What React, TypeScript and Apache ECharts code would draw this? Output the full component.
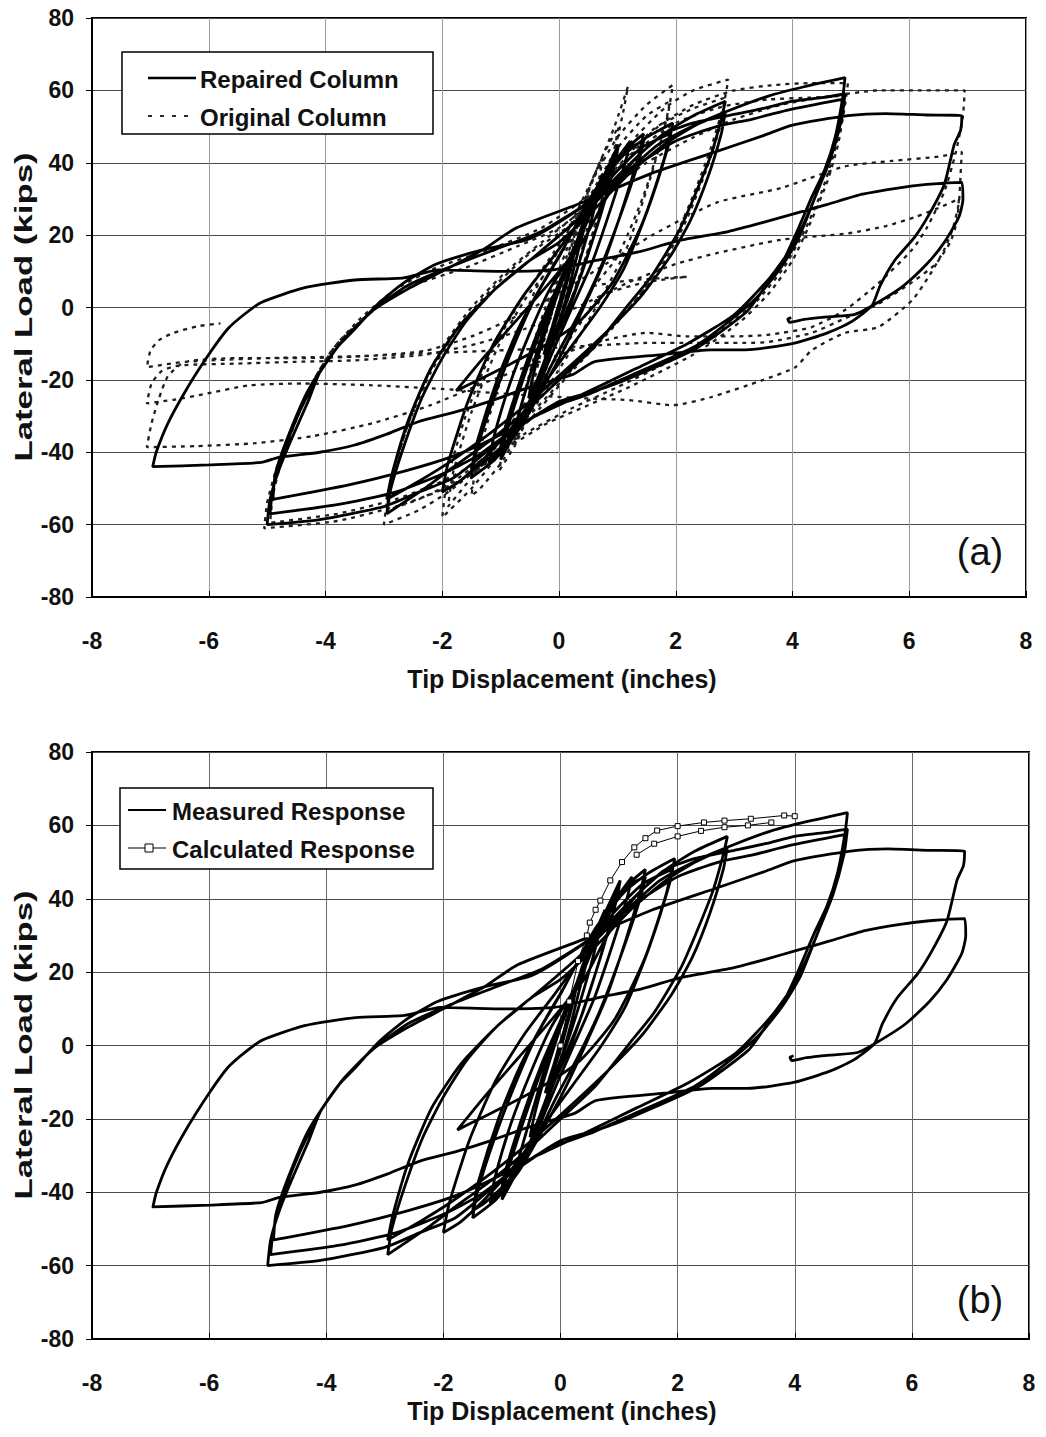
import React, { useEffect, useRef } from "react";
import * as echarts from "echarts";

// ---------- axes ----------
const X_MIN = -8;
const X_MAX = 8;
const X_STEP = 2;
const Y_MIN = -80;
const Y_MAX = 80;
const Y_STEP = 20;

// ---------- Repaired column / measured response (inches, kips), in loading order ----------
const rep01 = [[0,0],[0.08,5],[0.17,10],[0.26,15],[0.22,12],[0.12,6],[0.02,0],[-0.08,-5],[-0.17,-10],[-0.26,-13],[-0.21,-10],[-0.11,-5],[-0.02,0]];
const rep02 = [[0.1,6],[0.22,13],[0.36,21],[0.5,27],[0.45,23],[0.32,15],[0.18,6],[0.04,-2],[-0.12,-9],[-0.28,-16],[-0.4,-21],[-0.52,-25],[-0.46,-20],[-0.33,-12],[-0.18,-4],[-0.04,3]];
const rep03 = [[0.12,10],[0.32,19],[0.52,28],[0.76,37],[0.7,33],[0.52,22],[0.32,11],[0.12,1],[-0.1,-8],[-0.32,-18],[-0.55,-28],[-0.77,-35],[-0.7,-30],[-0.5,-19],[-0.3,-8],[-0.1,2]];
const rep04 = [[0.15,11],[0.4,22],[0.7,34],[1.02,45],[0.96,40],[0.74,27],[0.46,13],[0.2,1],[-0.08,-9],[-0.38,-21],[-0.7,-33],[-1.0,-42],[-0.93,-36],[-0.68,-23],[-0.4,-10],[-0.12,2]];
const rep05 = [[0.2,14],[0.5,26],[0.8,37],[1.0,43],[0.93,38],[0.68,24],[0.38,9],[0.1,-2],[-0.2,-13],[-0.5,-26],[-0.8,-36],[-1.02,-40],[-0.92,-33],[-0.62,-18],[-0.32,-5],[-0.02,6]];
const rep05b = [[0.3,18],[0.65,31],[0.95,40],[1.22,46],[1.15,41],[0.9,28],[0.58,13],[0.28,2],[-0.05,-10],[-0.42,-24],[-0.8,-35],[-1.2,-43],[-1.12,-36],[-0.84,-21],[-0.5,-7],[-0.16,5]];
const rep06 = [[0.3,17],[0.7,32],[1.1,43],[1.45,48],[1.38,43],[1.12,29],[0.78,13],[0.45,1],[0.1,-11],[-0.3,-23],[-0.7,-34],[-1.1,-42],[-1.5,-47],[-1.42,-40],[-1.12,-25],[-0.76,-10],[-0.4,3]];
const rep07 = [[0.0,14],[0.4,26],[0.8,37],[1.2,44],[1.45,46],[1.36,40],[1.02,24],[0.66,9],[0.3,-3],[-0.1,-15],[-0.5,-28],[-0.9,-37],[-1.3,-43],[-1.5,-45],[-1.4,-37],[-1.06,-20],[-0.7,-6],[-0.3,6]];
const rep08 = [[0.1,17],[0.6,32],[1.1,42],[1.5,47],[1.95,51],[1.86,44],[1.52,27],[1.12,11],[0.7,0],[0.2,-11],[-0.3,-22],[-0.8,-33],[-1.3,-42],[-1.7,-48],[-2.0,-51],[-1.9,-43],[-1.56,-26],[-1.12,-10],[-0.62,3],[-0.1,14]];
const rep09 = [[0.4,25],[0.9,36],[1.4,44],[1.9,48],[1.8,41],[1.42,23],[0.92,7],[0.34,-4],[-0.3,-11],[-1.0,-17],[-1.76,-23],[-1.3,-14],[-0.7,-3],[-0.1,8],[0.4,18]];
const rep10 = [[0.8,30],[1.3,41],[1.8,48],[2.3,53],[2.85,57],[2.78,52],[2.6,42],[2.3,30],[2.05,21],[1.6,9],[1.2,1],[0.6,-11],[0.0,-20],[-0.6,-29],[-1.2,-37],[-1.8,-44],[-2.3,-50],[-2.95,-57],[-2.88,-50],[-2.65,-38],[-2.35,-25],[-2.0,-14],[-1.6,-4],[-1.1,5],[-0.5,13],[0.0,18]];
const rep11 = [[0.6,27],[1.2,37],[1.8,45],[2.3,50],[2.85,54],[2.78,48],[2.55,36],[2.25,24],[1.9,14],[1.4,3],[0.8,-7],[0.2,-16],[-0.5,-26],[-1.2,-35],[-1.9,-43],[-2.4,-48],[-2.95,-53],[-2.86,-46],[-2.6,-32],[-2.2,-17],[-1.7,-5],[-1.1,5],[-0.5,13]];
const rep12 = [[0.3,24],[1.0,35],[1.7,45],[2.4,51],[3.0,55],[3.6,58.5],[4.2,61],[4.9,63.5],[4.86,58],[4.73,47],[4.55,38],[4.33,30.5],[4.05,20],[3.82,12.3],[3.5,5],[3.2,-1.4],[2.34,-11.4],[1.2,-19.6],[0.63,-23],[0.0,-26],[-0.68,-33],[-1.25,-40],[-1.8,-47],[-2.4,-51],[-3.0,-55],[-4.1,-58.6],[-5.0,-60],[-4.95,-53],[-4.8,-45],[-4.6,-37],[-4.3,-26],[-4.1,-18],[-3.8,-11],[-3.5,-6],[-3.1,1],[-2.66,6.8],[-2.1,12],[-1.3,16],[-0.5,19],[0.3,26.7],[0.8,33],[1.2,39.5],[1.77,47.7],[2.3,51],[2.9,53],[3.5,55],[4.0,57],[4.5,58],[4.9,59]];
const rep13 = [[4.84,52],[4.65,41],[4.4,31],[4.1,19],[3.8,11],[3.4,3],[2.9,-4],[2.3,-11],[1.2,-19],[0.5,-24],[-0.2,-28],[-0.8,-34],[-1.4,-41],[-2.0,-46],[-2.8,-51],[-3.8,-54.5],[-4.95,-57],[-4.9,-50],[-4.72,-40],[-4.45,-29],[-4.1,-18],[-3.7,-9],[-3.2,-1],[-2.6,6],[-1.9,11],[-1.1,16],[-0.3,21],[0.5,29],[1.3,39],[2.0,46],[2.7,50],[3.3,52],[3.9,54.5],[4.85,57.5]];
const rep14 = [[4.8,51],[4.6,40],[4.35,29],[4.0,17],[3.6,8],[3.0,-2],[2.2,-10],[1.3,-17],[0.4,-24],[-0.4,-30],[-1.1,-36],[-1.8,-41],[-2.6,-45],[-3.6,-49],[-4.9,-53],[-4.86,-46],[-4.65,-36],[-4.3,-23],[-3.8,-11],[-3.2,-1],[-2.6,5],[-2.0,10]];
const rep15 = [[-1.3,16],[-0.73,22],[0.4,29],[1.54,36.8],[2.68,43],[3.5,47.5],[4.0,50.4],[4.95,53],[5.6,53.6],[6.3,53.2],[6.9,53],[6.88,49],[6.77,45],[6.6,34],[6.35,26],[6.1,19.6],[5.75,13],[5.5,6],[5.36,0.5],[5.0,-4],[4.6,-7],[4.0,-10],[3.2,-11.7],[2.6,-11.7],[1.77,-13],[0.6,-15],[0.24,-18.5],[-0.5,-22],[-1.2,-26],[-1.8,-29],[-2.4,-31.5],[-2.95,-35],[-3.5,-38],[-4.1,-40],[-4.8,-41.4],[-5.1,-42.8],[-6.0,-43.5],[-6.96,-44]];
const rep16 = [[-6.9,-40],[-6.7,-32],[-6.37,-22.3],[-6.0,-13],[-5.68,-6],[-5.4,-2],[-5.1,1.4],[-4.37,5.4],[-3.5,7.6],[-2.66,8.2],[-2.05,10.4],[-1.0,10],[-0.1,10.4],[0.63,13],[1.4,15.5],[2.05,18.5],[2.9,21],[3.5,23.5],[4.05,26],[4.6,28.5],[5.2,31.3],[5.8,33],[6.3,34],[6.9,34.6]];
const rep17 = [[6.92,30],[6.85,25],[6.6,18],[6.3,12],[5.9,6],[5.46,1.4],[5.07,-1.9],[4.6,-2.6],[4.2,-3.3],[3.95,-4.1],[3.92,-3.2],[3.98,-2.8]];

// ---------- Original column (dashed) ----------
const org01 = [[0,0],[0.08,6],[0.17,12],[0.25,17],[0.21,14],[0.11,7],[0.01,0],[-0.09,-6],[-0.18,-11],[-0.25,-14],[-0.2,-11],[-0.1,-5],[0,1]];
const org02 = [[0.12,9],[0.25,17],[0.38,25],[0.5,31],[0.44,26],[0.3,16],[0.16,6],[0.02,-3],[-0.14,-11],[-0.3,-19],[-0.42,-25],[-0.52,-28],[-0.45,-22],[-0.3,-12],[-0.15,-3],[0,5]];
const org03 = [[0.16,14],[0.36,25],[0.56,35],[0.76,42],[0.69,36],[0.5,23],[0.3,10],[0.1,0],[-0.14,-11],[-0.38,-23],[-0.6,-32],[-0.78,-38],[-0.7,-31],[-0.5,-18],[-0.28,-5],[-0.06,6]];
const org04 = [[0.2,17],[0.45,30],[0.72,41],[1.02,50],[0.95,44],[0.72,29],[0.44,13],[0.16,0],[-0.14,-13],[-0.45,-27],[-0.75,-38],[-1.02,-45],[-0.94,-37],[-0.68,-22],[-0.38,-7],[-0.08,7]];
const org05 = [[0.25,21],[0.6,36],[0.95,50],[1.18,61],[1.1,54],[0.85,36],[0.5,16],[0.2,1],[-0.15,-14],[-0.55,-30],[-0.95,-42],[-1.35,-50],[-1.5,-52],[-1.4,-42],[-1.1,-25],[-0.75,-9],[-0.4,5]];
const org06 = [[0.0,16],[0.5,33],[1.0,47],[1.5,56],[1.95,61.5],[1.86,53],[1.55,35],[1.15,16],[0.7,2],[0.2,-12],[-0.4,-27],[-1.0,-40],[-1.5,-50],[-2.0,-58],[-1.92,-48],[-1.6,-30],[-1.15,-12],[-0.65,2],[-0.1,15]];
const org07 = [[0.5,30],[1.0,44],[1.5,53],[1.9,57],[1.8,49],[1.45,31],[1.0,14],[0.6,6],[1.2,7.5],[2.2,8.5],[1.5,7],[0.7,3],[0.3,-6],[-0.3,-20],[-1.0,-36],[-1.5,-47],[-1.9,-55],[-1.82,-46],[-1.5,-29],[-1.05,-11],[-0.55,3],[0.0,14]];
const org08 = [[0.6,30],[1.2,45],[1.8,55],[2.3,60],[2.9,63],[2.82,56],[2.6,44],[2.3,31],[1.95,18],[1.5,6],[0.9,-6],[0.2,-18],[-0.5,-31],[-1.2,-42],[-1.9,-51],[-2.4,-56],[-3.0,-60],[-2.92,-51],[-2.7,-38],[-2.4,-24],[-2.0,-11],[-1.5,0],[-0.9,10],[-0.3,18]];
const org09 = [[0.4,27],[1.1,40],[1.7,50],[2.3,55],[2.85,58],[2.76,50],[2.5,37],[2.15,23],[1.7,10],[1.1,-2],[0.4,-14],[-0.4,-28],[-1.1,-39],[-1.8,-48],[-2.4,-53],[-2.95,-56],[-2.86,-47],[-2.6,-33],[-2.2,-18],[-1.7,-5],[-1.1,6],[-0.5,15]];
const org10 = [[0.2,23],[0.9,37],[1.6,49],[2.3,56],[3.0,60],[3.7,61.5],[4.3,62],[4.95,62],[4.9,56],[4.78,45],[4.6,35],[4.35,25],[4.0,13],[3.6,4],[3.1,-4],[2.3,-13],[1.2,-22],[0.5,-27],[-0.2,-32],[-0.9,-39],[-1.5,-46],[-2.1,-51],[-2.8,-55],[-3.8,-59],[-5.05,-61],[-5.0,-54],[-4.85,-45],[-4.6,-34],[-4.3,-23],[-3.9,-12],[-3.4,-3],[-2.8,5],[-2.1,11],[-1.2,16],[-0.3,22]];
const org11 = [[0.6,32],[1.3,43],[2.0,51],[2.8,55.5],[3.6,57.5],[4.3,58],[4.9,58.5],[4.85,52],[4.7,42],[4.5,32],[4.2,21],[3.85,11],[3.4,2],[2.8,-6],[2.0,-14],[1.0,-22],[0.2,-28],[-0.6,-35],[-1.3,-42],[-2.0,-48],[-2.8,-53],[-3.8,-57],[-4.95,-59.5],[-4.9,-52],[-4.75,-42],[-4.5,-31],[-4.2,-20],[-3.8,-10],[-3.2,-1],[-2.5,6],[-1.6,11],[-0.7,17]];
const org12 = [[0,22],[0.8,32],[1.5,40],[2.3,47],[3.0,52],[3.8,56],[4.5,58],[5.5,60],[6.2,60],[6.95,60],[6.92,53],[6.8,43],[6.6,32],[6.3,22],[6.05,16],[5.47,6.7],[4.9,-0.7],[4.33,-5.4],[3.6,-7.5],[3.0,-8],[2.2,-8],[1.5,-7],[0.8,-9],[0.2,-12],[-0.5,-16],[-1.3,-21],[-2.2,-27],[-3.2,-32],[-4.2,-35.5],[-5.2,-37.5],[-6.2,-38.3],[-7.06,-38.6]];
const org13 = [[-6.98,-32],[-6.85,-25],[-6.7,-19],[-6.4,-15],[-5.5,-14],[-4.5,-14],[-3.4,-13.5],[-2.3,-12],[-1.5,-8],[-0.8,-3],[0,4],[0.8,12],[1.6,20],[2.7,29],[3.8,33],[4.9,39],[5.7,40.5],[6.5,41.7],[6.9,43],[6.88,37],[6.85,29],[6.75,22],[6.6,16],[6.35,9],[6.05,2],[5.47,-5.4],[4.9,-7],[4.33,-11.8],[4.05,-16.5],[3.5,-20],[2.6,-24.8],[1.95,-27],[1.2,-25.6],[0.3,-25],[-0.8,-24],[-2.0,-22.5],[-3.2,-21.5],[-4.4,-21],[-5.3,-21.5],[-6.1,-24],[-6.6,-25.5],[-7.06,-26.5]];
const org14 = [[-6.98,-21],[-6.8,-17.5],[-6.5,-16],[-5.5,-15.5],[-4.5,-15],[-3.5,-14.6],[-2.3,-13],[-1.4,-10],[-0.6,-6],[0.3,0],[1.2,7],[2.0,12],[2.7,15],[3.8,18.7],[4.96,20.5],[5.6,22.5],[6.1,25],[6.5,27.5],[6.85,30],[6.82,24],[6.7,18],[6.45,12],[6.05,7],[5.47,1],[4.9,-3],[4.33,-7],[3.6,-9.5],[3.2,-9.8],[2.3,-9.8],[1.5,-9.8],[0.6,-10.5],[-0.5,-11.5],[-2.0,-12.5],[-3.5,-13.5],[-5.0,-14],[-6.4,-15],[-7.06,-16.5]];
const org15 = [[-7.0,-12],[-6.85,-9],[-6.6,-7],[-6.2,-5.2],[-5.8,-4.4]];

// ---------- Calculated response (squares) ----------
const calcEnvelope = [[0,0],[0.15,12],[0.3,23],[0.45,30],[0.5,33.5],[0.6,37],[0.68,39.5],[0.85,45],[1.05,50],[1.26,54],[1.45,56.5],[1.65,58.6],[2.0,59.8],[2.45,60.8],[2.8,61.3],[3.25,61.8],[3.82,62.7],[4.0,62.5]];
const calcReload = [[1.3,52],[1.6,55],[2.0,57],[2.4,58.5],[2.8,59.5],[3.2,60],[3.6,60.8]];

const repairedPath = [...rep01, ...rep02, ...rep03, ...rep04, ...rep05, ...rep05b, ...rep06, ...rep07, ...rep08, ...rep09, ...rep10, ...rep11, ...rep12, ...rep13, ...rep14, ...rep15, ...rep16, ...rep17];
const originalPath = [...org01, ...org02, ...org03, ...org04, ...org05, ...org06, ...org07, ...org08, ...org09, ...org10, ...org11, ...org12, ...org13, ...org14, ...org15];

const FONT = '"Liberation Sans", Arial, Helvetica, sans-serif';

function makeXAxis(gridIndex: number, gridColor: string) {
  return {
    type: "value",
    gridIndex,
    min: X_MIN,
    max: X_MAX,
    interval: X_STEP,
    axisLine: { show: true, onZero: false, lineStyle: { color: "#000", width: 2 } },
    axisTick: { show: true, inside: true, length: 6, lineStyle: { color: "#000", width: 1 } },
    axisLabel: { show: true, color: "#111", fontSize: 23, fontWeight: "bold", fontFamily: FONT, margin: 32, showMinLabel: true, showMaxLabel: true },
    splitLine: { show: true, lineStyle: { color: gridColor, width: 1 } },
  };
}
function makeYAxis(gridIndex: number) {
  return {
    type: "value",
    gridIndex,
    min: Y_MIN,
    max: Y_MAX,
    interval: Y_STEP,
    axisLine: { show: true, onZero: false, lineStyle: { color: "#000", width: 2 } },
    axisTick: { show: true, inside: false, length: 6, lineStyle: { color: "#000", width: 1 } },
    axisLabel: { show: true, color: "#111", fontSize: 23, fontWeight: "bold", fontFamily: FONT, margin: 18, showMinLabel: true, showMaxLabel: true },
    splitLine: { show: true, lineStyle: { color: "#4a4a4a", width: 1.2 } },
  };
}

function txt(text: string, x: number, y: number, size: number, weight: string, align = "left", rotation = 0, scaleX = 1) {
  return {
    type: "text",
    x,
    y,
    rotation,
    scaleX,
    z: 100,
    style: {
      text,
      fill: "#111",
      font: `${weight} ${size}px ${FONT}`,
      fontSize: size,
      fontWeight: weight,
      fontFamily: FONT,
      textAlign: align,
      align,
      textVerticalAlign: "middle",
      verticalAlign: "middle",
    },
  };
}

export default function App() {
  const ref = useRef<HTMLDivElement>(null);
  useEffect(() => {
    if (!ref.current) return;
    const chart = echarts.init(ref.current, undefined, { renderer: "svg" });
    const solid = { color: "#000", width: 2.8 };
    const option: any = {
      animation: false,
      backgroundColor: "#ffffff",
      grid: [
        { left: 92, top: 18, width: 934, height: 579, show: true, borderColor: "#000", borderWidth: 2, backgroundColor: "transparent", containLabel: false },
        { left: 92, top: 752, width: 937, height: 587, show: true, borderColor: "#000", borderWidth: 2, backgroundColor: "transparent", containLabel: false },
      ],
      xAxis: [makeXAxis(0, "#9a9a9a"), makeXAxis(1, "#6a6a6a")],
      yAxis: [makeYAxis(0), makeYAxis(1)],
      series: [
        { name: "Original Column", type: "line", xAxisIndex: 0, yAxisIndex: 0, data: originalPath, symbol: "none", showSymbol: false, smooth: 0.2, silent: true, z: 2, lineStyle: { color: "#1e1e1e", width: 2.3, type: [4, 5] } },
        { name: "Repaired Column", type: "line", xAxisIndex: 0, yAxisIndex: 0, data: repairedPath, symbol: "none", showSymbol: false, smooth: 0.2, silent: true, z: 3, lineStyle: solid },
        { name: "Measured Response", type: "line", xAxisIndex: 1, yAxisIndex: 1, data: repairedPath, symbol: "none", showSymbol: false, smooth: 0.2, silent: true, z: 3, lineStyle: solid },
        { name: "Calculated Response", type: "line", xAxisIndex: 1, yAxisIndex: 1, data: calcEnvelope, symbol: "rect", symbolSize: 5, showSymbol: true, showAllSymbol: true, silent: true, z: 4, lineStyle: { color: "#000", width: 1 }, itemStyle: { color: "#fff", borderColor: "#000", borderWidth: 1 } },
        { name: "Calculated Response 2", type: "line", xAxisIndex: 1, yAxisIndex: 1, data: calcReload, symbol: "rect", symbolSize: 5, showSymbol: true, showAllSymbol: true, silent: true, z: 4, lineStyle: { color: "#000", width: 1 }, itemStyle: { color: "#fff", borderColor: "#000", borderWidth: 1 } },
      ],
      graphic: [
        // axis titles
        txt("Lateral Load (kips)", 24, 307, 24, "bold", "center", Math.PI / 2, 1.45),
        txt("Tip Displacement (inches)", 562, 679, 25, "bold", "center"),
        txt("Lateral Load (kips)", 24, 1045, 24, "bold", "center", Math.PI / 2, 1.45),
        txt("Tip Displacement (inches)", 562, 1411, 25, "bold", "center"),
        // panel tags
        txt("(a)", 980, 552, 38, "normal", "center"),
        txt("(b)", 980, 1300, 38, "normal", "center"),
        // legend (a)
        { type: "rect", z: 90, shape: { x: 122, y: 52, width: 311, height: 82 }, style: { fill: "#fff", stroke: "#000", lineWidth: 1.5 } },
        { type: "line", z: 95, shape: { x1: 148, y1: 78, x2: 196, y2: 78 }, style: { stroke: "#000", lineWidth: 2.4 } },
        { type: "line", z: 95, shape: { x1: 148, y1: 116, x2: 194, y2: 116 }, style: { stroke: "#2a2a2a", lineWidth: 2, lineDash: [4, 8] } },
        txt("Repaired Column", 200, 79, 24, "bold"),
        txt("Original Column", 200, 117, 24, "bold"),
        // legend (b)
        { type: "rect", z: 90, shape: { x: 120, y: 788, width: 313, height: 81 }, style: { fill: "#fff", stroke: "#000", lineWidth: 1.5 } },
        { type: "line", z: 95, shape: { x1: 128, y1: 810, x2: 166, y2: 810 }, style: { stroke: "#000", lineWidth: 2 } },
        { type: "line", z: 95, shape: { x1: 128, y1: 848, x2: 166, y2: 848 }, style: { stroke: "#000", lineWidth: 1.2 } },
        { type: "rect", z: 96, shape: { x: 145, y: 844, width: 8, height: 8 }, style: { fill: "#fff", stroke: "#000", lineWidth: 1 } },
        txt("Measured Response", 172, 811, 24, "bold"),
        txt("Calculated Response", 172, 849, 24, "bold"),
      ],
    };
    chart.setOption(option);
    return () => chart.dispose();
  }, []);
  return <div ref={ref} style={{ position: "absolute", left: 0, top: 0, width: 1046, height: 1437, background: "#fff" }} />;
}
